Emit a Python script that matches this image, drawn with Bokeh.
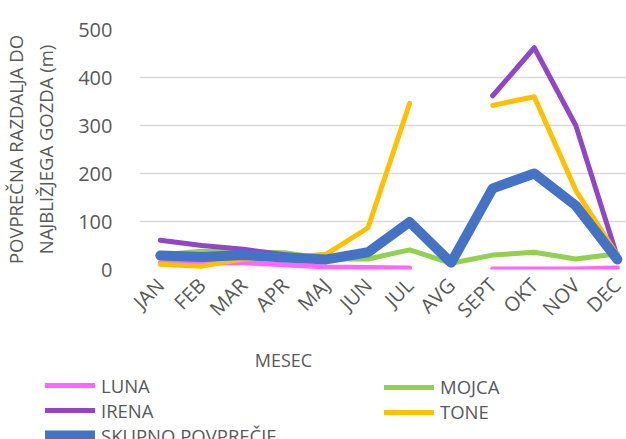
import math
from bokeh.plotting import figure
from bokeh.layouts import column
from bokeh.models import (ColumnDataSource, Range1d, FixedTicker, Legend,
                          LegendItem, Label)
from bokeh.embed import file_html
from bokeh.resources import INLINE

nan = float("nan")

# Months and average distance to the nearest forest (m) per observer
months = ["JAN", "FEB", "MAR", "APR", "MAJ", "JUN", "JUL", "AVG",
          "SEPT", "OKT", "NOV", "DEC"]
luna = [14, 14, 14, 10, 5, 4, 3, nan, 1, 1, 1, 3]
mojca = [31, 38, 37, 35, 22, 22, 41, 13, 30, 36, 22, 33]
irena = [61, 50, 42, 31, 23, nan, nan, nan, 362, 462, 300, 26]
tone = [11, 7, 22, 25, 32, 87, 346, nan, 342, 360, 165, 30]
skupno = [29, 26, 30, 25, 21, 36, 99, 14, 169, 200, 133, 21]

y_ticks = [0, 100, 200, 300, 400, 500]

series = [
    ("LUNA", luna, "#FF66FF", 5),
    ("MOJCA", mojca, "#92D050", 5),
    ("IRENA", irena, "#9146C8", 5),
    ("TONE", tone, "#FFC000", 5),
    ("SKUPNO POVPREČJE", skupno, "#4472C4", 10),
]

FONT = "Open Sans"
GREY = "#595959"
W = 626
MAIN_H = 345
KEY_H = 439 - MAIN_H

x = list(range(len(months)))
sources = {name: ColumnDataSource(dict(x=x, y=vals)) for name, vals, _, _ in series}

# ---- main chart -------------------------------------------------------
p = figure(width=W, height=MAIN_H, output_backend="svg", toolbar_location=None,
           x_range=Range1d(-0.5, 11.22), y_range=Range1d(0, 500),
           min_border_left=136, min_border_right=0, min_border_top=29,
           min_border_bottom=MAIN_H - 269)
p.outline_line_color = None
p.border_fill_color = "white"

for name, vals, color, lw in series:
    p.line("x", "y", source=sources[name], line_color=color, line_width=lw,
           line_cap="round", line_join="round")

p.xaxis.ticker = FixedTicker(ticks=x)
p.xaxis.major_label_overrides = {i: m for i, m in enumerate(months)}
p.xaxis.major_label_orientation = math.pi / 4
p.xaxis.major_label_text_font = FONT
p.xaxis.major_label_text_font_size = "20px"
p.xaxis.major_label_text_color = GREY
p.xaxis.major_label_standoff = 6
p.xaxis.axis_line_color = None
p.xaxis.major_tick_line_color = None
p.xaxis.minor_tick_line_color = None

p.yaxis.ticker = FixedTicker(ticks=y_ticks)
p.yaxis.major_label_text_font = FONT
p.yaxis.major_label_text_font_size = "20px"
p.yaxis.major_label_text_color = GREY
p.yaxis.major_label_standoff = 21
p.yaxis.axis_line_color = None
p.yaxis.major_tick_line_color = None
p.yaxis.minor_tick_line_color = None
p.yaxis.axis_label = "POVPREČNA RAZDALJA DO\nNAJBLIŽJEGA GOZDA (m)"
p.yaxis.axis_label_text_font = FONT
p.yaxis.axis_label_text_font_size = "18.5px"
p.yaxis.axis_label_text_font_style = "normal"
p.yaxis.axis_label_text_color = GREY
p.yaxis.axis_label_standoff = 17

p.xgrid.grid_line_color = None
p.ygrid.grid_line_color = "#D9D9D9"
p.ygrid.grid_line_width = 1.5

# ---- key strip: axis title and legends ---------------------------------
# Same series sources; the strip's y range sits below zero so only the
# legend swatches of these lines are seen.
k = figure(width=W, height=KEY_H, output_backend="svg", toolbar_location=None,
           x_range=Range1d(-0.5, 11.22), y_range=Range1d(-100, -50),
           min_border=0)
k.frame_align = False
k.outline_line_color = None
k.axis.visible = False
k.grid.visible = False

key_renderers = {}
for name, vals, color, lw in series:
    key_renderers[name] = k.line("x", "y", source=sources[name],
                                 line_color=color, line_width=lw,
                                 line_cap="round")

k.add_layout(Label(x=283, y=KEY_H - (359 - MAIN_H), x_units="screen",
                   y_units="screen", text="MESEC", text_font=FONT,
                   text_font_size="18px", text_color=GREY,
                   text_align="center", text_baseline="middle"))

ROW = 23.5


def make_legend(names, left, top):
    lg = Legend(items=[LegendItem(label=n, renderers=[key_renderers[n]]) for n in names],
                orientation="vertical")
    height = ROW * len(names)
    lg.location = (left, KEY_H - top - height)
    lg.background_fill_alpha = 0
    lg.border_line_color = None
    lg.padding = 0
    lg.margin = 0
    lg.spacing = 0
    lg.glyph_width = 50
    lg.glyph_height = 20
    lg.label_height = 20
    lg.label_standoff = 6
    lg.label_text_font = FONT
    lg.label_text_font_size = "18.5px"
    lg.label_text_color = GREY
    return lg


top = 389 - ROW / 2 - MAIN_H
k.add_layout(make_legend(["LUNA", "IRENA", "SKUPNO POVPREČJE"], 45, top))
k.add_layout(make_legend(["MOJCA", "TONE"], 384, top))

layout = column(p, k, spacing=0)
open("out.html", "w").write(file_html(layout, INLINE))
